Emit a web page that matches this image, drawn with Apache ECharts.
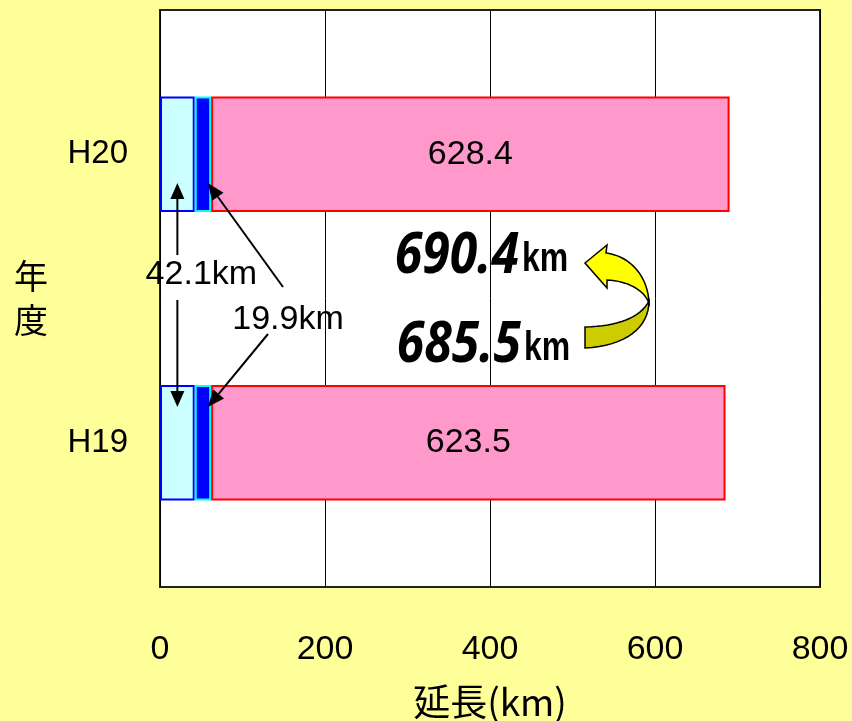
<!DOCTYPE html>
<html>
<head>
<meta charset="utf-8">
<script src="https://cdn.jsdelivr.net/npm/echarts@6/dist/echarts.min.js"></script>
<style>
  html, body { margin: 0; padding: 0; background: #FFFF99; }
  #c { width: 852px; height: 721px; }
</style>
</head>
<body>
<div id="c"></div>
<script>
// Road length by fiscal year (km), split into three stacked sections
const years = ['H19', 'H20'];
const sectionA = [42.1, 42.1];     // light cyan section
const sectionB = [19.9, 19.9];     // blue section
const sectionC = [623.5, 628.4];   // pink section
const xTicks = [0, 200, 400, 600, 800];

const SANS = "'Liberation Sans',Arial,sans-serif";
const CJK = "'Noto Sans CJK JP',sans-serif";

const totals = years.map((_, i) => (sectionA[i] + sectionB[i] + sectionC[i]).toFixed(1));

const chart = echarts.init(document.getElementById('c'), null, { renderer: 'canvas' });

const barBase = {
  type: 'bar',
  stack: 'len',
  barWidth: '40%',
  emphasis: { disabled: true }
};

chart.setOption({
  backgroundColor: '#FFFF99',
  animation: false,
  grid: {
    left: 160, right: 32, top: 10, bottom: 134,
    outerBoundsMode: 'none',
    containLabel: false,
    show: true, backgroundColor: '#FFFFFF', borderColor: '#222', borderWidth: 2
  },
  xAxis: {
    type: 'value',
    min: xTicks[0], max: xTicks[xTicks.length - 1], interval: xTicks[1] - xTicks[0],
    axisLine: { show: false },
    axisTick: { show: false },
    splitLine: { show: true, lineStyle: { color: '#000', width: 1 } },
    axisLabel: { color: '#000', fontSize: 34, fontFamily: SANS, margin: 46 },
    name: '延長(km)',
    nameLocation: 'middle',
    nameGap: 96,
    nameTextStyle: { color: '#000', fontSize: 37, fontFamily: CJK }
  },
  yAxis: {
    type: 'category',
    data: years,
    axisLine: { show: false },
    axisTick: { show: false },
    splitLine: { show: false },
    axisLabel: { color: '#000', fontSize: 33, fontFamily: SANS, margin: 32 },
    name: '年\n度',
    nameLocation: 'middle',
    nameRotate: 0,
    nameGap: 112,
    nameTextStyle: { color: '#000', fontSize: 34, lineHeight: 44, fontFamily: CJK }
  },
  series: [
    Object.assign({}, barBase, {
      name: 'A', data: sectionA,
      itemStyle: { color: '#CCFFFF', borderColor: '#0000FF', borderWidth: 2 }
    }),
    Object.assign({}, barBase, {
      name: 'B', data: sectionB,
      itemStyle: { color: '#0000FF', borderColor: '#00FFFF', borderWidth: 2 }
    }),
    Object.assign({}, barBase, {
      name: 'C', data: sectionC,
      itemStyle: { color: '#FF99CC', borderColor: '#FF0000', borderWidth: 2 },
      label: {
        show: true, position: 'inside', color: '#000',
        fontSize: 34, fontFamily: SANS,
        formatter: p => p.value.toFixed(1)
      }
    })
  ]
});

// Annotations: arrows and total lengths, anchored to the axes
const px = (x, cat) => chart.convertToPixel({ xAxisIndex: 0, yAxisIndex: 0 }, [x, cat]);
const pTop = px(0, years[1]);
const pBot = px(0, years[0]);
const band = pBot[1] - pTop[1];
const halfBar = band * 0.2;
const topBarBottom = pTop[1] + halfBar;
const botBarTop = pBot[1] - halfBar;

function arrow(tail, tip, len, w) {
  const dx = tip[0] - tail[0], dy = tip[1] - tail[1];
  const d = Math.hypot(dx, dy);
  const ux = dx / d, uy = dy / d;
  const bx = tip[0] - ux * len, by = tip[1] - uy * len;
  const nx = -uy * w, ny = ux * w;
  return [
    { type: 'line', silent: true, z: 20,
      shape: { x1: tail[0], y1: tail[1], x2: bx, y2: by },
      style: { stroke: '#000', lineWidth: 2 } },
    { type: 'polygon', silent: true, z: 20,
      shape: { points: [tip, [bx + nx, by + ny], [bx - nx, by - ny]] },
      style: { fill: '#000' } }
  ];
}

// Sample a cubic Bezier into points (start point excluded)
function bez(p0, p1, p2, p3, n) {
  const pts = [];
  for (let i = 1; i <= n; i++) {
    const t = i / n, u = 1 - t;
    pts.push([
      u * u * u * p0[0] + 3 * u * u * t * p1[0] + 3 * u * t * t * p2[0] + t * t * t * p3[0],
      u * u * u * p0[1] + 3 * u * u * t * p1[1] + 3 * u * t * t * p2[1] + t * t * t * p3[1]
    ]);
  }
  return pts;
}

const midA = px(sectionA[1] / 2, years[1])[0];
const tipB = px(sectionA[1] + sectionB[1] - 4, years[1])[0];
const upTip = [midA, topBarBottom - 29];
const downTip = [midA, botBarTop + 22];
const labelAY = 275;
const labelBY = 320;

const elements = [];
elements.push(...arrow([midA, labelAY - 20], upTip, 16, 7));
elements.push(...arrow([midA, labelAY + 25], downTip, 16, 7));
elements.push(...arrow([283, 287], [tipB, upTip[1]], 17, 7));
elements.push(...arrow([268, 334], [tipB, downTip[1]], 17, 7));

elements.push({
  type: 'text', z: 25, x: midA + 24, y: labelAY,
  style: { text: sectionA[1].toFixed(1) + 'km', fill: '#000', fontSize: 34, fontFamily: SANS,
           align: 'center', verticalAlign: 'middle' }
});
elements.push({
  type: 'text', z: 25, x: 288, y: labelBY,
  style: { text: sectionB[1].toFixed(1) + 'km', fill: '#000', fontSize: 34, fontFamily: SANS,
           align: 'center', verticalAlign: 'middle' }
});

// Total lengths, H20 above H19
const totalRows = [
  { value: totals[1], y: 256, xr: 519 },
  { value: totals[0], y: 345, xr: 521 }
];
totalRows.forEach(r => {
  elements.push({
    type: 'text', z: 25, x: r.xr, y: r.y, scaleX: 0.86,
    style: { text: r.value, fill: '#000', fontSize: 58, fontWeight: 'bold', fontStyle: 'italic',
             fontFamily: "'Noto Sans',sans-serif", align: 'right', verticalAlign: 'middle' }
  });
  elements.push({
    type: 'text', z: 25, x: r.xr + 3, y: r.y + 4, scaleX: 0.8,
    style: { text: 'km', fill: '#000', fontSize: 40, fontWeight: 'bold',
             fontFamily: SANS, align: 'left', verticalAlign: 'middle' }
  });
});

// Curved yellow arrow from the H19 total up to the H20 total
const lowerBand = [[649, 301]]
  .concat(bez([649, 301], [649, 328], [625, 346], [585, 348], 16))
  .concat([[585, 327]])
  .concat(bez([585, 327], [618, 326], [640, 318], [649, 301], 16));
const upperBand = [[585, 263], [607, 245], [606, 253]]
  .concat(bez([606, 253], [630, 256], [648, 276], [649, 303], 16))
  .concat(bez([649, 303], [644, 290], [628, 281], [607, 280], 16))
  .concat([[607, 288]]);

elements.push({
  type: 'polygon', z: 22, silent: true,
  shape: { points: lowerBand },
  style: { fill: '#CCCC00', stroke: '#000', lineWidth: 1.5 }
});
elements.push({
  type: 'polygon', z: 23, silent: true,
  shape: { points: upperBand },
  style: { fill: '#FFFF00', stroke: '#000', lineWidth: 1.5 }
});

chart.setOption({ graphic: { elements: elements } });
</script>
</body>
</html>
